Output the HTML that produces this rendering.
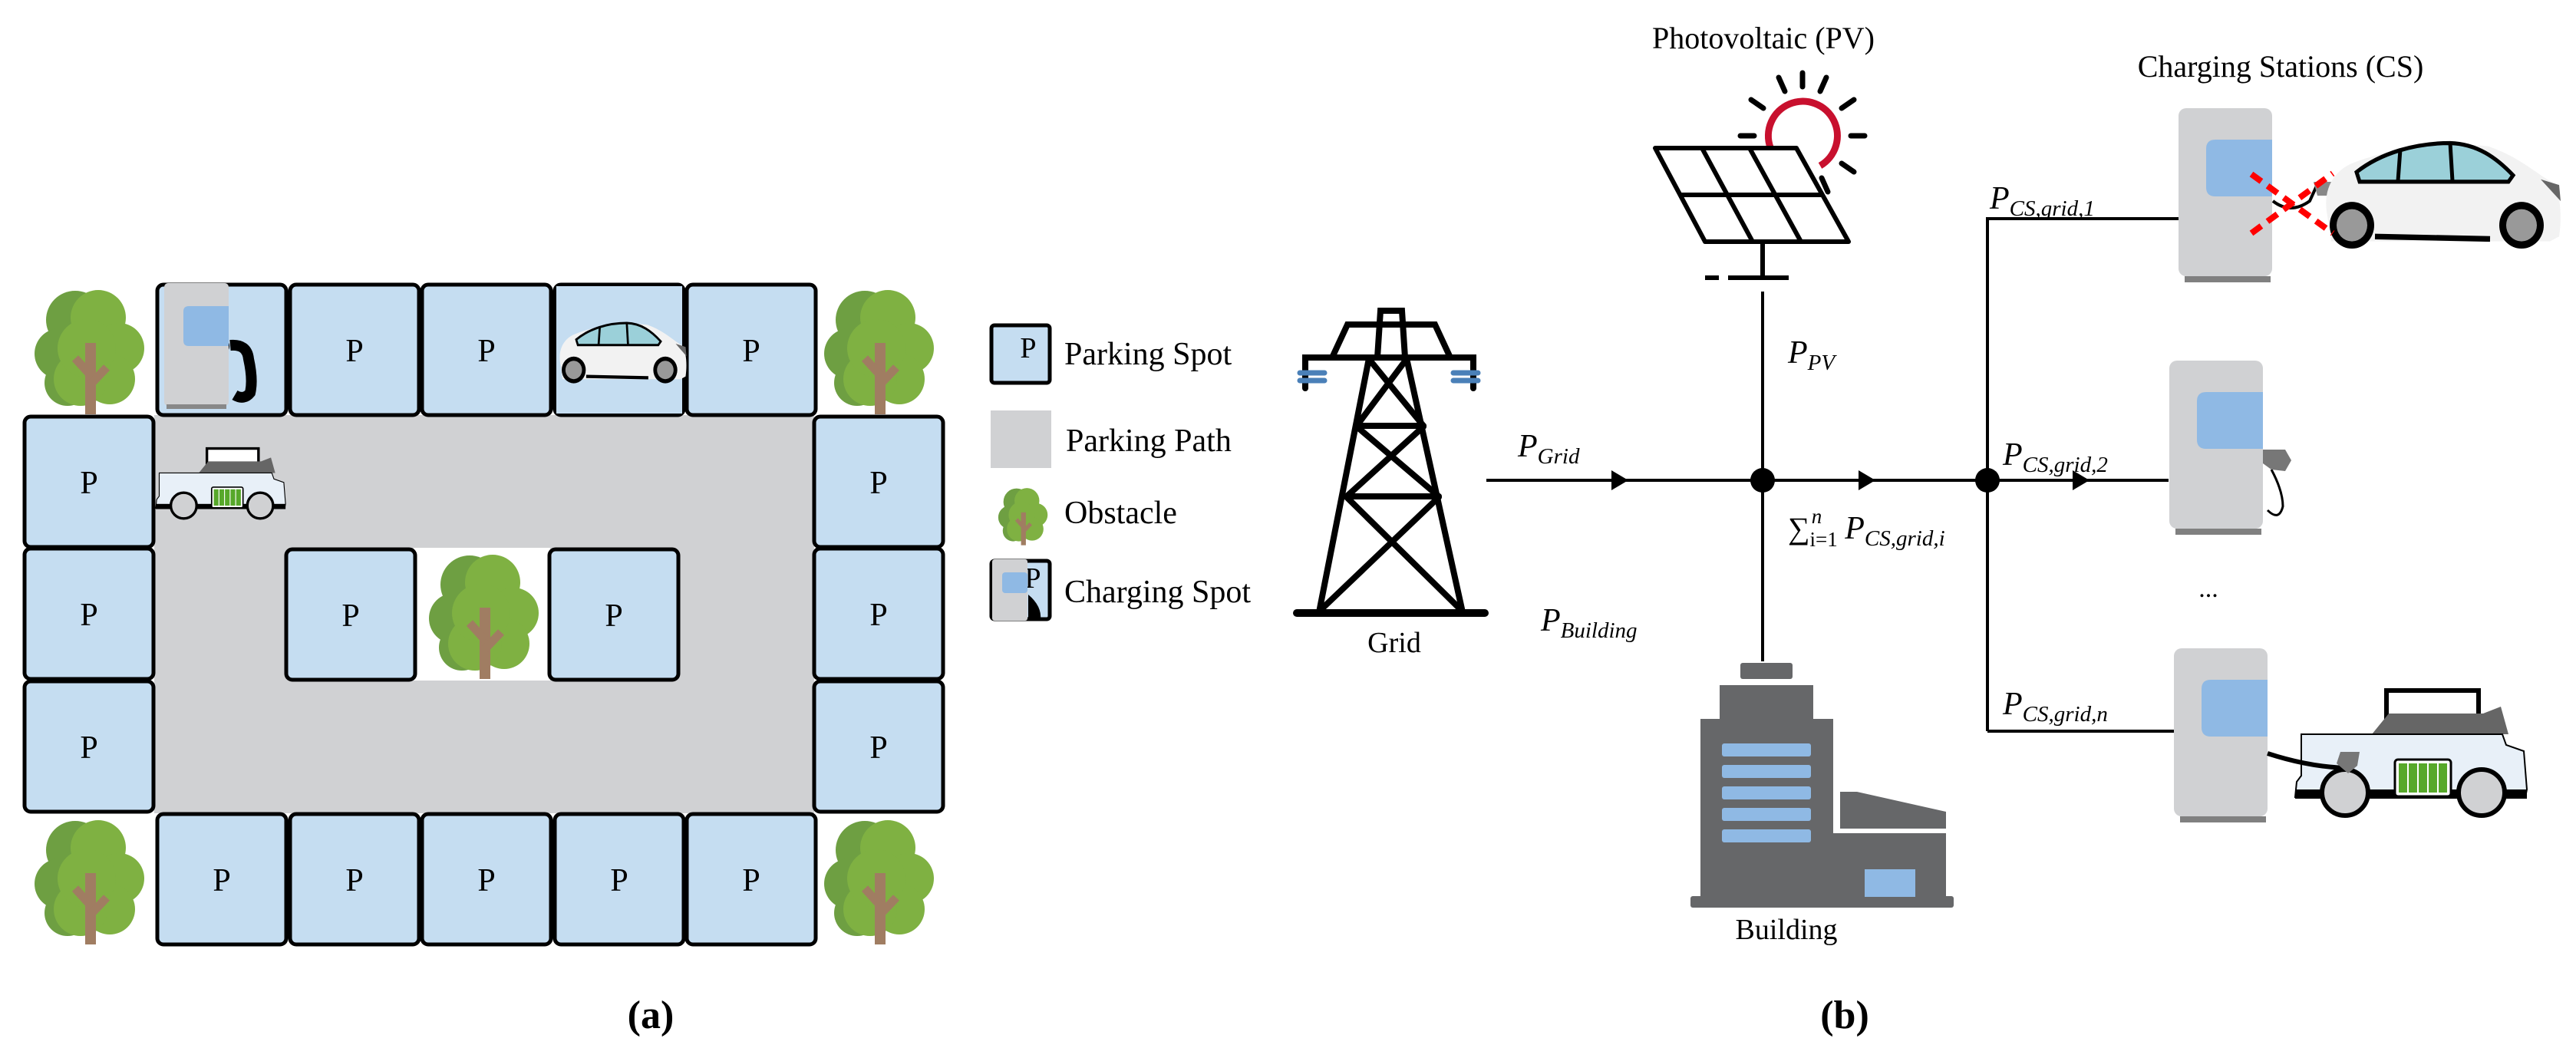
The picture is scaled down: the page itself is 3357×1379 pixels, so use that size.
<!DOCTYPE html>
<html><head><meta charset="utf-8"><style>
html,body{margin:0;padding:0;background:#fff;}
svg{display:block;}
text{font-family:"Liberation Serif",serif;fill:#000;}
</style></head><body>
<svg width="3357" height="1379" viewBox="0 0 3357 1379" xmlns="http://www.w3.org/2000/svg">
<defs>
<g id="tree">
  <circle cx="55" cy="48" r="38" fill="#6e9f42"/>
  <circle cx="35" cy="92" r="33" fill="#6e9f42"/>
  <circle cx="45" cy="130" r="30" fill="#6e9f42"/>
  <circle cx="85" cy="45" r="36" fill="#7fb142"/>
  <circle cx="112" cy="85" r="33" fill="#7fb142"/>
  <circle cx="100" cy="125" r="33" fill="#7fb142"/>
  <circle cx="62" cy="125" r="35" fill="#7fb142"/>
  <circle cx="70" cy="85" r="38" fill="#7fb142"/>
  <rect x="68" y="78" width="14" height="93" fill="#a07d62"/>
  <path d="M75 120 L55 98" stroke="#a07d62" stroke-width="11"/>
  <path d="M75 132 L96 110" stroke="#a07d62" stroke-width="11"/>
</g>
<g id="spot">
  <rect x="0" y="0" width="168" height="170" rx="8" fill="#c5ddf1" stroke="#000" stroke-width="5"/>
  <text x="84" y="100" font-size="42" text-anchor="middle">P</text>
</g>
<g id="car">
  <path d="M10 100 C4 72 14 48 40 36 C80 20 150 6 220 14 C262 28 282 48 302 58 C314 70 316 100 312 126 L300 132 L15 132 Z" fill="#f2f2f2"/>
  <path d="M48 46 C80 22 125 10 170 10 C205 11 230 28 252 50 L246 58 L52 58 Z" fill="#9bd0d9" stroke="#000" stroke-width="5"/>
  <line x1="105" y1="18" x2="102" y2="57" stroke="#000" stroke-width="5"/>
  <line x1="170" y1="10" x2="173" y2="57" stroke="#000" stroke-width="5"/>
  <line x1="72" y1="126" x2="222" y2="129" stroke="#000" stroke-width="7"/>
  <path d="M288 55 L312 62 L314 82 Z" fill="#666"/>
  <circle cx="42" cy="112" r="29" fill="#000"/><circle cx="42" cy="112" r="20" fill="#999"/>
  <circle cx="263" cy="112" r="29" fill="#000"/><circle cx="263" cy="112" r="20" fill="#999"/>
</g>
<g id="van">
  <rect x="119" y="1" width="120" height="38" fill="#fff" stroke="#000" stroke-width="6"/>
  <path d="M100 58 L122 31 L245 31 L268 22 L278 58 Z" fill="#666"/>
  <path d="M8 58 L270 58 L275 72 L298 80 L302 130 L300 140 L0 140 L2 120 L8 112 Z" fill="#e8f0f8" stroke="#000" stroke-width="2"/>
  <rect x="0" y="130" width="302" height="12" fill="#000"/>
  <rect x="130" y="91" width="73" height="48" rx="4" fill="#fff" stroke="#000" stroke-width="3"/>
  <rect x="135" y="96" width="11" height="38" fill="#57a82a"/><rect x="148" y="96" width="11" height="38" fill="#57a82a"/>
  <rect x="161" y="96" width="11" height="38" fill="#57a82a"/><rect x="174" y="96" width="11" height="38" fill="#57a82a"/>
  <rect x="187" y="96" width="11" height="38" fill="#57a82a"/>
  <circle cx="65" cy="134" r="30" fill="#d0d1d3" stroke="#000" stroke-width="6"/>
  <circle cx="243" cy="134" r="30" fill="#d0d1d3" stroke="#000" stroke-width="6"/>
</g>
<g id="cs">
  <rect x="0" y="0" width="122" height="219" rx="10" fill="#d0d1d3"/>
  <rect x="8" y="219" width="112" height="8" fill="#808080"/>
  <path d="M48 41 L122 41 L122 115 L48 115 Q36 115 36 103 L36 53 Q36 41 48 41 Z" fill="#8fb9e4"/>
</g>
</defs>

<!-- ===== Panel (a) ===== -->
<rect x="201" y="541" width="860" height="519" fill="#d0d1d3"/>
<rect x="539" y="714" width="178" height="173" fill="#fff"/>
<use href="#spot" transform="translate(205,371)"/>
<use href="#spot" transform="translate(378,371)"/>
<use href="#spot" transform="translate(550,371)"/>
<use href="#spot" transform="translate(723,371)"/>
<use href="#spot" transform="translate(895,371)"/>
<use href="#spot" transform="translate(32,543)"/>
<use href="#spot" transform="translate(32,715)"/>
<use href="#spot" transform="translate(32,888)"/>
<use href="#spot" transform="translate(1061,543)"/>
<use href="#spot" transform="translate(1061,715)"/>
<use href="#spot" transform="translate(1061,888)"/>
<use href="#spot" transform="translate(205,1061)"/>
<use href="#spot" transform="translate(378,1061)"/>
<use href="#spot" transform="translate(550,1061)"/>
<use href="#spot" transform="translate(723,1061)"/>
<use href="#spot" transform="translate(895,1061)"/>
<use href="#spot" transform="translate(373,716)"/>
<use href="#spot" transform="translate(716,716)"/>
<rect x="725" y="373" width="164" height="166" fill="#c5ddf1"/>
<use href="#car" transform="translate(725,415) scale(0.54,0.6)"/>
<!-- charger spot 1 -->
<rect x="214" y="369" width="84" height="160" rx="5" fill="#d0d1d3"/>
<rect x="217" y="527" width="78" height="6" fill="#888"/>
<path d="M246 399 L298 399 L298 451 L246 451 Q239 451 239 444 L239 406 Q239 399 246 399 Z" fill="#8fb9e4"/>
<path d="M300 450 Q322 448 324 468 Q330 495 326 512 Q318 522 306 515" fill="none" stroke="#000" stroke-width="14"/>
<use href="#van" transform="translate(203,584) scale(0.56)"/>
<use href="#tree" transform="translate(43,369)"/>
<use href="#tree" transform="translate(43,1060)"/>
<use href="#tree" transform="translate(1072,369)"/>
<use href="#tree" transform="translate(1072,1060)"/>
<use href="#tree" transform="translate(557,714)"/>

<!-- Legend -->
<rect x="1292" y="424" width="76" height="75" rx="4" fill="#c5ddf1" stroke="#000" stroke-width="5"/>
<text x="1340" y="466" font-size="38" text-anchor="middle">P</text>
<text x="1387" y="475" font-size="42">Parking Spot</text>
<rect x="1291" y="535" width="79" height="75" fill="#d0d1d3"/>
<text x="1389" y="588" font-size="42">Parking Path</text>
<use href="#tree" transform="translate(1300,632) scale(0.45,0.46)"/>
<text x="1387" y="682" font-size="42">Obstacle</text>
<rect x="1292" y="731" width="76" height="76" rx="4" fill="#c5ddf1" stroke="#000" stroke-width="5"/>
<text x="1346" y="766" font-size="38" text-anchor="middle">P</text>
<rect x="1293" y="729" width="46" height="80" rx="3" fill="#d0d1d3"/>
<rect x="1306" y="746" width="33" height="27" rx="4" fill="#8fb9e4"/>
<path d="M1340 775 Q1358 790 1356 808 L1340 808 Z" fill="#000"/>
<text x="1387" y="785" font-size="42">Charging Spot</text>

<text x="848" y="1340" font-size="52" font-weight="bold" text-anchor="middle">(a)</text>
<text x="2404" y="1340" font-size="52" font-weight="bold" text-anchor="middle">(b)</text>

<!-- ===== Panel (b) ===== -->
<g stroke="#000" stroke-width="8" stroke-linecap="round" fill="none">
  <line x1="1690" y1="799" x2="1935" y2="799" stroke-width="10"/>
  <line x1="1784" y1="467" x2="1719" y2="798"/>
  <line x1="1833" y1="467" x2="1906" y2="798"/>
  <path d="M1701 506 L1701 466 L1920 466 L1920 506"/>
  <path d="M1736 466 L1756 423 L1870 423 L1890 466"/>
  <path d="M1795 466 L1799 405 L1827 405 L1831 466"/>
  <line x1="1768" y1="555" x2="1855" y2="555"/>
  <line x1="1755" y1="647" x2="1875" y2="647"/>
  <line x1="1784" y1="468" x2="1855" y2="555"/><line x1="1833" y1="468" x2="1768" y2="555"/>
  <line x1="1768" y1="556" x2="1875" y2="647"/><line x1="1855" y1="556" x2="1755" y2="647"/>
  <line x1="1755" y1="648" x2="1906" y2="797"/><line x1="1875" y1="648" x2="1719" y2="797"/>
</g>
<g stroke="#4a80b8" stroke-width="7" stroke-linecap="round">
  <line x1="1694" y1="486" x2="1726" y2="486"/><line x1="1694" y1="496" x2="1726" y2="496"/>
  <line x1="1894" y1="486" x2="1926" y2="486"/><line x1="1894" y1="496" x2="1926" y2="496"/>
</g>
<text x="1817" y="850" font-size="38" text-anchor="middle">Grid</text>

<g stroke="#000" stroke-width="4" fill="none">
  <line x1="1937" y1="626" x2="2826" y2="626"/>
  <line x1="2297" y1="380" x2="2297" y2="862"/>
  <line x1="2590" y1="283" x2="2590" y2="953"/>
  <line x1="2590" y1="285" x2="2839" y2="285"/>
  <line x1="2590" y1="953" x2="2833" y2="953"/>
</g>
<circle cx="2297" cy="626" r="16" fill="#000"/>
<circle cx="2590" cy="626" r="16" fill="#000"/>
<path d="M2100 613 L2122 626 L2100 639 Z" fill="#000"/>
<path d="M2422 613 L2444 626 L2422 639 Z" fill="#000"/>
<path d="M2701 613 L2723 626 L2701 639 Z" fill="#000"/>

<text x="2298" y="63" font-size="40" text-anchor="middle">Photovoltaic (PV)</text>
<path d="M2307 192 A45 45 0 1 1 2372 216" fill="none" stroke="#c8102e" stroke-width="9"/>
<g stroke="#000" stroke-width="7" stroke-linecap="round">
  <line x1="2349" y1="113" x2="2349" y2="95"/>
  <line x1="2326" y1="119" x2="2318" y2="101"/>
  <line x1="2372" y1="119" x2="2380" y2="101"/>
  <line x1="2298" y1="141" x2="2282" y2="130"/>
  <line x1="2400" y1="141" x2="2416" y2="130"/>
  <line x1="2286" y1="177" x2="2268" y2="177"/>
  <line x1="2412" y1="177" x2="2430" y2="177"/>
  <line x1="2400" y1="213" x2="2416" y2="224"/>
  <line x1="2374" y1="232" x2="2382" y2="250"/>
</g>
<g stroke="#000" stroke-width="6" fill="none" stroke-linejoin="round">
  <path d="M2157 193 L2341 193 L2409 315 L2222 315 Z" fill="#fff"/>
  <line x1="2189" y1="254" x2="2375" y2="254"/>
  <line x1="2218" y1="193" x2="2284" y2="315"/>
  <line x1="2280" y1="193" x2="2347" y2="315"/>
  <line x1="2297" y1="315" x2="2297" y2="362"/>
  <line x1="2222" y1="362" x2="2240" y2="362"/>
  <line x1="2252" y1="362" x2="2331" y2="362"/>
</g>

<g fill="#666769">
  <rect x="2268" y="864" width="68" height="21" rx="3"/>
  <rect x="2241" y="893" width="122" height="50"/>
  <rect x="2216" y="937" width="173" height="236"/>
  <path d="M2398 1032 L2420 1032 L2536 1058 L2536 1080 L2398 1080 Z"/>
  <rect x="2389" y="1086" width="147" height="87"/>
  <rect x="2203" y="1168" width="343" height="15" rx="3"/>
</g>
<g fill="#8fb9e4">
  <rect x="2244" y="969" width="116" height="17" rx="3"/>
  <rect x="2244" y="997" width="116" height="17" rx="3"/>
  <rect x="2244" y="1025" width="116" height="17" rx="3"/>
  <rect x="2244" y="1053" width="116" height="17" rx="3"/>
  <rect x="2244" y="1081" width="116" height="17" rx="3"/>
  <rect x="2430" y="1133" width="66" height="36"/>
</g>
<text x="2328" y="1224" font-size="38" text-anchor="middle">Building</text>

<g font-size="42" font-style="italic">
  <text x="1978" y="595">P<tspan font-size="29" dy="9">Grid</tspan></text>
  <text x="2330" y="473">P<tspan font-size="29" dy="9">PV</tspan></text>
  <text x="2008" y="822">P<tspan font-size="29" dy="9">Building</tspan></text>
  <text x="2593" y="272">P<tspan font-size="29" dy="9">CS,grid,1</tspan></text>
  <text x="2610" y="606">P<tspan font-size="29" dy="9">CS,grid,2</tspan></text>
  <text x="2610" y="931">P<tspan font-size="29" dy="9">CS,grid,n</tspan></text>
</g>
<text x="2330" y="702" font-size="40"><tspan>∑</tspan><tspan font-size="27" dy="10">i=1</tspan><tspan font-size="27" font-style="italic" dx="-34" dy="-30">n</tspan><tspan font-size="42" font-style="italic" dx="30" dy="20">P</tspan><tspan font-size="29" font-style="italic" dy="9">CS,grid,i</tspan></text>
<text x="2878" y="778" font-size="34" text-anchor="middle">...</text>
<text x="2972" y="100" font-size="40" text-anchor="middle">Charging Stations (CS)</text>

<use href="#cs" transform="translate(2839,141)"/>
<use href="#cs" transform="translate(2827,470)"/>
<use href="#cs" transform="translate(2833,845)"/>

<path d="M2962 262 Q2985 280 3010 262 L3020 240" fill="none" stroke="#000" stroke-width="4"/>
<path d="M3015 237 L3040 237 L3040 255 L3020 255 Z" fill="#888"/>
<use href="#car" transform="translate(3023,176) scale(1,1.05)"/>
<g stroke="#f00" stroke-width="8" stroke-dasharray="16,10">
  <line x1="2934" y1="227" x2="3040" y2="304"/>
  <line x1="2934" y1="304" x2="3040" y2="226"/>
</g>

<path d="M2960 612 Q2975 640 2975 660 Q2970 680 2955 665" fill="none" stroke="#000" stroke-width="3"/>
<path d="M2949 586 L2978 586 L2986 600 L2978 614 L2960 612 L2949 604 Z" fill="#777"/>

<use href="#van" transform="translate(2991,899)"/>
<path d="M2955 982 Q3010 1000 3060 1001" fill="none" stroke="#000" stroke-width="6"/>
<path d="M3050 980 L3075 980 L3072 998 L3060 1008 L3045 995 Z" fill="#777"/>
</svg>
</body></html>
